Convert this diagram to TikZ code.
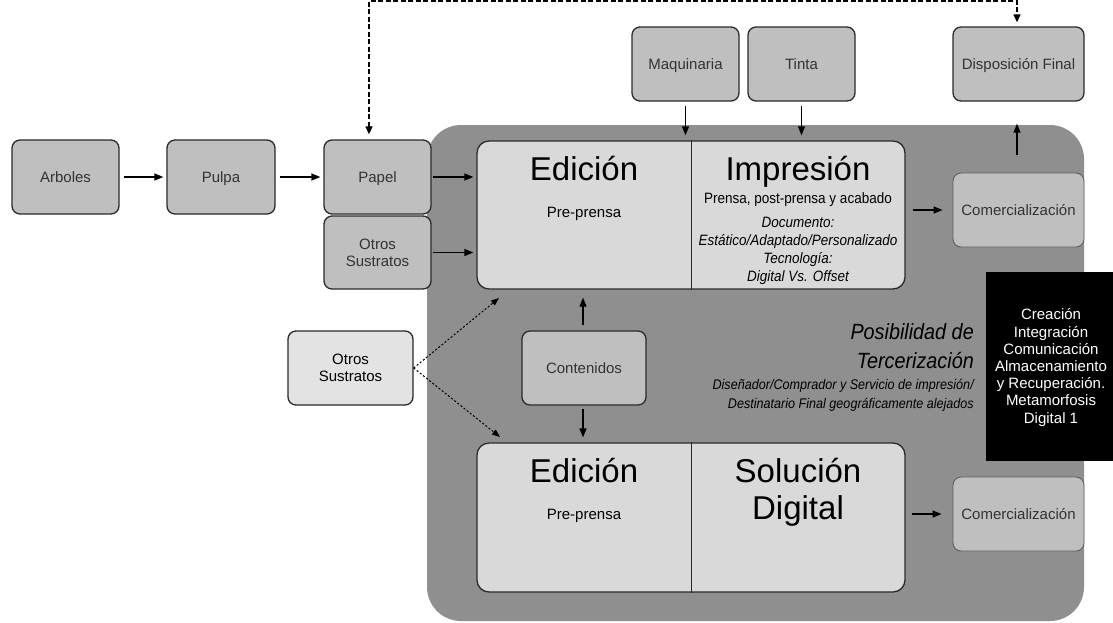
\documentclass[tikz,border=0pt]{standalone}
\usepackage{fontspec}
\setmainfont{Liberation Sans}
\newfontfamily\narrowfont{Liberation Sans}[FakeStretch=0.9]
\usetikzlibrary{arrows.meta}

\definecolor{boxgray}{HTML}{BFBFBF}
\definecolor{panelgray}{HTML}{8F8F8F}
\definecolor{editgray}{HTML}{D9D9D9}
\definecolor{palegray}{HTML}{E3E3E3}
\definecolor{edgegray}{HTML}{2A2A2A}
\definecolor{labelgray}{HTML}{333333}
\definecolor{comedge}{HTML}{5E5E5E}

\newcommand\setfs[2]{\fontsize{#1pt}{#2pt}\selectfont}

\begin{document}
\begin{tikzpicture}[x=1pt,y=-1pt,
  box/.style={draw=edgegray, line width=1.3pt, rounded corners=8pt, fill=boxgray,
    text=labelgray, font=\setfs{15}{17}, align=center, inner sep=0pt},
  onebox/.style={box, text height=11pt, text depth=0pt},
  combox/.style={onebox, draw=comedge, line width=0.9pt, minimum width=131pt, minimum height=74pt},
  editbox/.style={draw=edgegray, line width=1.3pt, rounded corners=12pt, fill=editgray,
    minimum width=428pt, inner sep=0pt},
  bigtitle/.style={anchor=base, font=\setfs{33}{37}, align=center, inner sep=0pt},
  subtitle/.style={anchor=base, font=\setfs{15}{18}, inner sep=0pt},
  arr/.style={line width=1.3pt, -{Triangle[length=9pt,width=7pt]}},
  dotarr/.style={line width=1pt, dash pattern=on 2pt off 2pt, -{Triangle[length=8pt,width=6pt]}},
  dasharr/.style={line width=1.3pt, dash pattern=on 5pt off 2.5pt,
    {Triangle[length=8pt,width=7pt]}-{Triangle[length=8pt,width=7pt]}}]

\useasboundingbox (0,0) rectangle (1113,622);
\fill[white] (0,0) rectangle (1113,622);

% grey panel behind the production stages
\fill[panelgray, rounded corners=34pt] (427,125) rectangle (1084,621);

% raw material chain
\node[onebox, minimum width=107pt, minimum height=74pt] (arb) at (65.5,177) {Arboles};
\node[onebox, minimum width=108pt, minimum height=74pt] (pul) at (221,177) {Pulpa};
\node[onebox, minimum width=107pt, minimum height=74pt] (pap) at (377.5,177) {Papel};
\node[box, minimum width=107pt, minimum height=73pt] (otr1) at (377.5,252.5) {Otros\\Sustratos};

% inputs to printing
\node[onebox, minimum width=107pt, minimum height=74pt] (maq) at (685.5,64) {Maquinaria};
\node[onebox, minimum width=107pt, minimum height=74pt] (tin) at (801.5,64) {Tinta};
\node[onebox, minimum width=131pt, minimum height=74pt] (dis) at (1018.5,64) {Disposición Final};

% edition / printing block
\node[editbox, minimum height=148pt] (top) at (691,215) {};
\draw[edgegray, line width=1pt] (top.north) -- (top.south);
\node[bigtitle] (edA) at (584,180) {Edición};
\node[subtitle] (ppA) at (584,217) {Pre-prensa};
\node[bigtitle] (imp) at (798,180) {Impresión};
\node[subtitle, font=\narrowfont\setfs{15}{18}] (prn) at (798,203) {Prensa, post-prensa y acabado};
% multi-line nodes: the base anchor sits on the last line
\node[subtitle, align=center, font=\narrowfont\itshape\setfs{15}{18}] (doc) at (798,281)
  {Documento:\\Estático/Adaptado/Personalizado\\Tecnología:\\Digital Vs. Offset};

% edition / digital block
\node[editbox, minimum height=149pt] (bot) at (691,517.5) {};
\draw[edgegray, line width=1pt] (bot.north) -- (bot.south);
\node[bigtitle] (edB) at (584,482) {Edición};
\node[subtitle] (ppB) at (584,519) {Pre-prensa};
\node[bigtitle] (sol) at (798,519) {Solución\\Digital};

% contents and alternative substrates
\node[onebox, minimum width=124pt, minimum height=74pt] (con) at (584,368) {Contenidos};
\node[box, fill=palegray, text=black, minimum width=125pt, minimum height=74pt] (otr2) at (350.5,368) {Otros\\Sustratos};

% commercialisation
\node[combox] (com1) at (1018.5,210) {Comercialización};
\node[combox] (com2) at (1018.5,514) {Comercialización};

% outsourcing note
\node[anchor=base east, align=right, inner sep=0pt,
  font=\narrowfont\itshape\setfs{22}{29}] (ter) at (974,368) {Posibilidad de\\Tercerización};
\node[anchor=base east, align=right, inner sep=0pt,
  font=\narrowfont\itshape\setfs{14}{19}] (dst) at (974,408)
  {Diseñador/Comprador y Servicio de impresión/\\Destinatario Final geográficamente alejados};

% black label
\fill[black] (986,272) rectangle (1113,461);
\node[anchor=base, align=center, inner sep=0pt, text=white, font=\setfs{15}{17.2}] (met) at (1051,423)
  {Creación\\Integración\\Comunicación\\Almacenamiento\\y Recuperación.\\Metamorfosis\\Digital 1};

% connectors
\draw[arr, shorten <=4pt, shorten >=3pt] (arb.east) -- (pul.west);
\draw[arr, shorten <=4pt, shorten >=3pt] (pul.east) -- (pap.west);
\draw[arr, shorten <=1pt, shorten >=3pt] (pap.east) -- (pap.east -| top.west);
\draw[arr, shorten <=1pt, shorten >=3pt] (otr1.east) -- (otr1.east -| top.west);
\draw[arr, shorten <=4pt, shorten >=5pt] (maq.south) -- (maq.south |- top.north);
\draw[arr, shorten <=4pt, shorten >=5pt] (tin.south) -- (tin.south |- top.north);
\draw[arr, shorten <=7pt, shorten >=10pt] (top.east |- com1.west) -- (com1.west);
\draw[arr, shorten <=18pt, shorten >=22pt] ([xshift=-1.5pt]com1.north) -- ([xshift=-1.5pt]dis.south);
\draw[arr, shorten <=5pt, shorten >=8pt] ([xshift=-1pt]con.north) -- ([xshift=-1pt]con.north |- top.south);
\draw[arr, shorten <=3pt, shorten >=5pt] ([xshift=-1pt]con.south) -- ([xshift=-1pt]con.south |- bot.north);
\draw[arr, shorten <=6pt, shorten >=11pt] (bot.east |- com2.west) -- (com2.west);

\coordinate (dA) at (499,298);
\coordinate (dB) at (500,437);
\draw[dotarr] (otr2.east) -- (dA);
\draw[dotarr] (otr2.east) -- (dB);

\draw[dasharr] ([xshift=-8.5pt,yshift=5pt]pap.north) -- ++(0,-133.5) -| ([xshift=-1.5pt,yshift=4pt]dis.north);
\end{tikzpicture}
\end{document}
